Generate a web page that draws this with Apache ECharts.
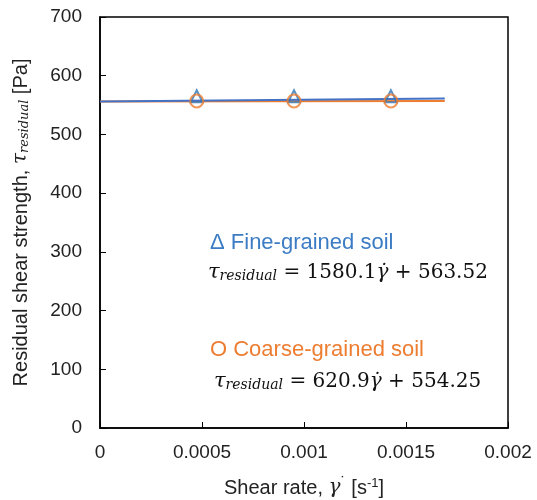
<!DOCTYPE html>
<html>
<head>
<meta charset="UTF-8">
<title>Residual shear strength vs shear rate</title>
<script src="https://cdn.jsdelivr.net/npm/echarts@6/dist/echarts.min.js"></script>
<style>
    body{ margin:0; background:#fff; }
    #main{ width:537px; height:500px; }
</style>
</head>
<body>
<div id="main"></div>
<script type="text/javascript">
    // measured points
    var shearRate = [0.000474, 0.000951, 0.001426];
    var fineStrength = [565, 565, 565];
    var coarseStrength = [557, 557, 557];
    // trendline end points as drawn
    var trendX = [0, 0.00169];
    var fineTrend = [556, 561];
    var coarseTrend = [556, 557];
    var xTicks = [0, 0.0005, 0.001, 0.0015, 0.002];

    var blue = '#4472C4';
    var orange = '#ED7D31';

    function pairs(xs, ys){
        return xs.map(function(x, i){ return [x, ys[i]]; });
    }

    var myChart = echarts.init(document.getElementById('main'));

    var eqRich = {
        t: { fontSize: 21, fontFamily: 'DejaVu Serif', fontStyle: 'italic', fill: '#111' },
        s: { fontSize: 14, fontFamily: 'DejaVu Serif', fontStyle: 'italic', fill: '#111', padding: [8, 0, 0, 0] },
        n: { fontSize: 20, fontFamily: 'DejaVu Serif', fill: '#111' },
        g: { fontSize: 20, fontFamily: 'DejaVu Serif', fontStyle: 'italic', fill: '#111' }
    };

    var option = {
        backgroundColor: '#fff',
        animation: false,
        grid: {
            left: 100, top: 17, right: 29, bottom: 72,
            outerBoundsMode: 'none', containLabel: false,
            show: true, borderColor: '#000', borderWidth: 1.5, backgroundColor: 'transparent'
        },
        xAxis: {
            type: 'value', min: 0, max: 0.002, interval: 0.0005,
            axisLine: { lineStyle: { color: '#000', width: 1.5 } },
            axisTick: { inside: true, length: 6, lineStyle: { color: '#000' } },
            splitLine: { show: false },
            axisLabel: {
                color: '#222', fontSize: 19, fontFamily: 'Liberation Sans', margin: 15,
                formatter: function(v){ return xTicks.indexOf(v) >= 0 ? String(v) : ''; }
            },
            name: '{a|Shear rate, }{g|γ}{d|˙}{a| [s}{p|-1}{a|]}',
            nameLocation: 'middle', nameGap: 48,
            nameTextStyle: {
                rich: {
                    a: { fontSize: 20, fontFamily: 'Liberation Sans', color: '#222' },
                    g: { fontSize: 20, fontFamily: 'DejaVu Serif', fontStyle: 'italic', color: '#222' },
                    d: { fontSize: 16, fontFamily: 'Liberation Sans', color: '#222', padding: [0, 0, 8, 0] },
                    p: { fontSize: 13, fontFamily: 'Liberation Sans', color: '#222', padding: [0, 0, 9, 0] }
                }
            }
        },
        yAxis: {
            type: 'value', min: 0, max: 700, interval: 100,
            axisLine: { lineStyle: { color: '#000', width: 1.5 } },
            axisTick: { inside: true, length: 6, lineStyle: { color: '#000' } },
            splitLine: { show: false },
            axisLabel: { color: '#222', fontSize: 19, fontFamily: 'Liberation Sans', margin: 18 },
            name: '{a|Residual shear strength, }{t|τ}{s|residual}{a| [Pa]}',
            nameLocation: 'middle', nameGap: 69,
            nameTextStyle: {
                rich: {
                    a: { fontSize: 20, fontFamily: 'Liberation Sans', color: '#222' },
                    t: { fontSize: 20, fontFamily: 'DejaVu Serif', fontStyle: 'italic', color: '#222' },
                    s: { fontSize: 13, fontFamily: 'DejaVu Serif', fontStyle: 'italic', color: '#222', padding: [7, 0, 0, 0] }
                }
            }
        },
        graphic: [
            { type: 'text', left: 210, top: 232, style: { text: 'Δ Fine-grained soil', fill: '#3C7CC4', font: '22px "Liberation Sans"' } },
            { type: 'text', left: 208, top: 262, style: {
                text: '{t|τ}{s|residual}{n| = 1580.1}{g|γ̇}{n| + 563.52}', rich: eqRich
            } },
            { type: 'text', left: 210, top: 339, style: { text: 'O Coarse-grained soil', fill: '#ED7D31', font: '22px "Liberation Sans"' } },
            { type: 'text', left: 214, top: 371, style: {
                text: '{t|τ}{s|residual}{n| = 620.9}{g|γ̇}{n| + 554.25}', rich: eqRich
            } }
        ],
        series: [
            {
                type: 'line', data: pairs(trendX, coarseTrend), showSymbol: false,
                lineStyle: { color: orange, width: 2 }, z: 2
            },
            {
                type: 'line', data: pairs(trendX, fineTrend), showSymbol: false,
                lineStyle: { color: blue, width: 2 }, z: 3
            },
            {
                type: 'scatter', data: pairs(shearRate, fineStrength), symbol: 'triangle', symbolSize: 12,
                itemStyle: { color: 'transparent', borderColor: '#2E75B6', borderWidth: 2 }, z: 4
            },
            {
                type: 'scatter', data: pairs(shearRate, coarseStrength), symbol: 'circle', symbolSize: 13,
                itemStyle: { color: 'transparent', borderColor: orange, borderWidth: 2 }, z: 5
            }
        ]
    };
    myChart.setOption(option);
</script>
</body>
</html>
